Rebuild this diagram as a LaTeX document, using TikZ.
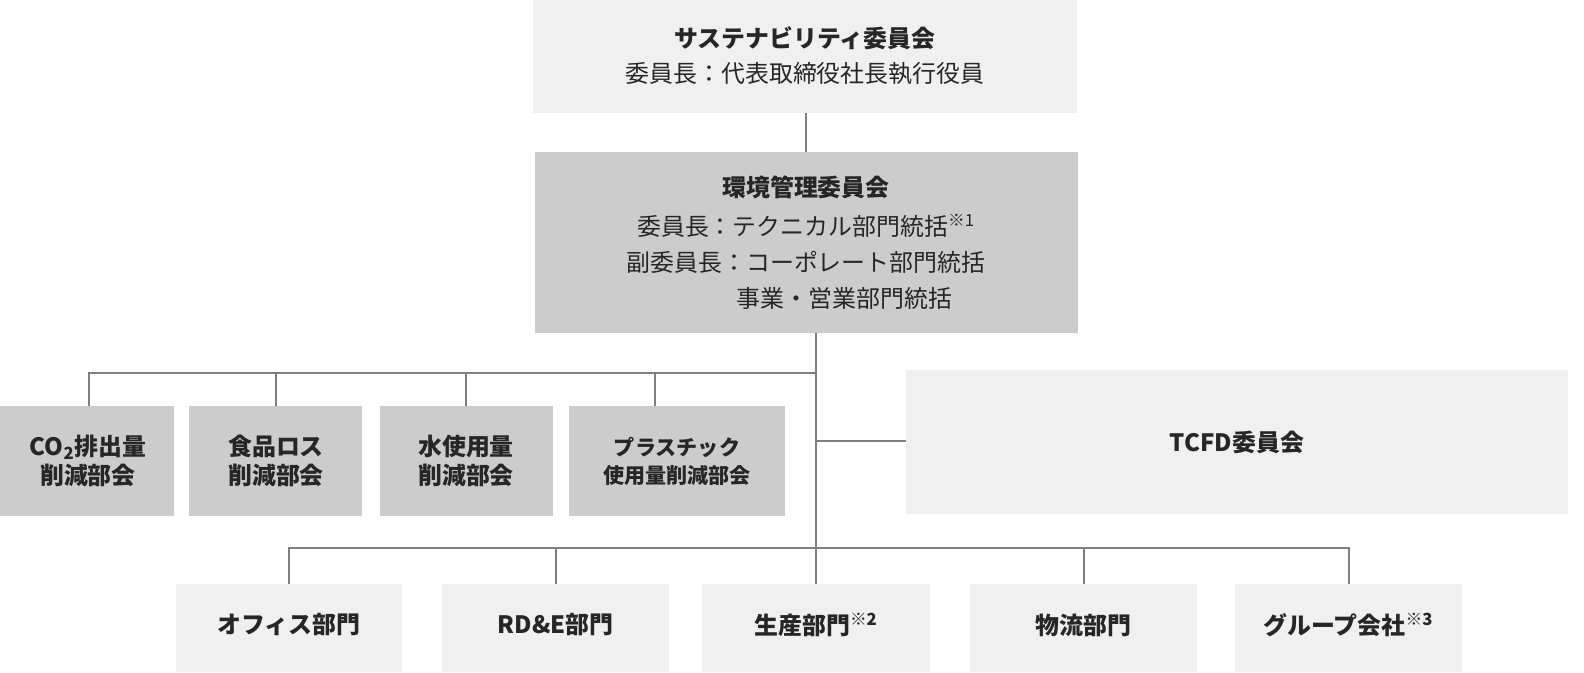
\documentclass[tikz,border=0pt]{standalone}
\usepackage{fontspec}
\setmainfont{Noto Sans CJK JP}
\newfontfamily\bfj{Noto Sans CJK JP}[FakeBold=2]
\begin{document}
\begin{tikzpicture}[x=0.025cm,y=-0.025cm,
  light/.style={fill=black!6,draw=none},
  dark/.style={fill=black!20,draw=none},
  conn/.style={draw=black!50,line width=1.8pt},
  t/.style={font=\fontsize{17}{21}\selectfont\bfseries,align=center,text=black!85},
  n/.style={font=\fontsize{17}{21}\selectfont,align=center,text=black!85}]
\useasboundingbox (0,0) rectangle (1584,672);
\path[fill=white] (0,0) rectangle (1584,672);
% boxes
\fill[light] (533,0) rectangle (1077,113);
\node[t] (top1) at (805,38) {サステナビリティ委員会};
\node[n] (top2) at (805,74) {委員長：代表取締役社長執行役員};
\fill[dark] (535,152) rectangle (1078,333);
\node (mid) at (806,242) {};
\node[t] (m1) at (806,187) {環境管理委員会};
\node[n] (m2) at (806,226) {委員長：テクニカル部門統括\textsuperscript{※1}};
\node[n] (m3) at (806,262) {副委員長：コーポレート部門統括};
\node[n,anchor=west] (m4) at (732,298) {事業・営業部門統括};
\draw[conn] (806,113) -- (806,152);
% small boxes
\fill[dark] (0,406) rectangle (174,516);
\fill[dark] (189,406) rectangle (362,516);
\fill[dark] (380,406) rectangle (553,516);
\fill[dark] (569,406) rectangle (785,516);
\node[t] (s1) at (88,461) {CO\textsubscript{2}排出量\\削減部会};
\node[t] (s2) at (276,461) {食品ロス\\削減部会};
\node[t] (s3) at (466,461) {水使用量\\削減部会};
\node[t,font=\fontsize{15}{20}\selectfont\bfseries] (s4) at (677,461) {プラスチック\\使用量削減部会};
\fill[light] (906,370) rectangle (1568,514);
\node[t] (tcfd) at (1237,442) {TCFD委員会};
% bottom
\foreach \a/\b/\nm/\txt in {176/402/b1/オフィス部門,442/669/b2/RD\&E部門,702/930/b3/生産部門\textsuperscript{※2},970/1197/b4/物流部門,1235/1462/b5/グループ会社\textsuperscript{※3}}{
  \fill[light] (\a,584) rectangle (\b,672);
  \node[t] (\nm) at ({(\a+\b)/2},625) {\txt};
}
% connectors
\coordinate (c0) at (816,333);
\coordinate (c1) at (816,584);
\draw[conn] (c0) -- (c1);
\draw[conn] (89,406) -- (89,373) -- (816,373);
\draw[conn] (276,406) -- (276,373);
\draw[conn] (466,406) -- (466,373);
\draw[conn] (655,406) -- (655,373);
\draw[conn] (816,441) -- (906,441);
\draw[conn] (289,584) -- (289,548) -- (1349,548) -- (1349,584);
\draw[conn] (556,584) -- (556,548);
\draw[conn] (1084,584) -- (1084,548);
\end{tikzpicture}
\end{document}
